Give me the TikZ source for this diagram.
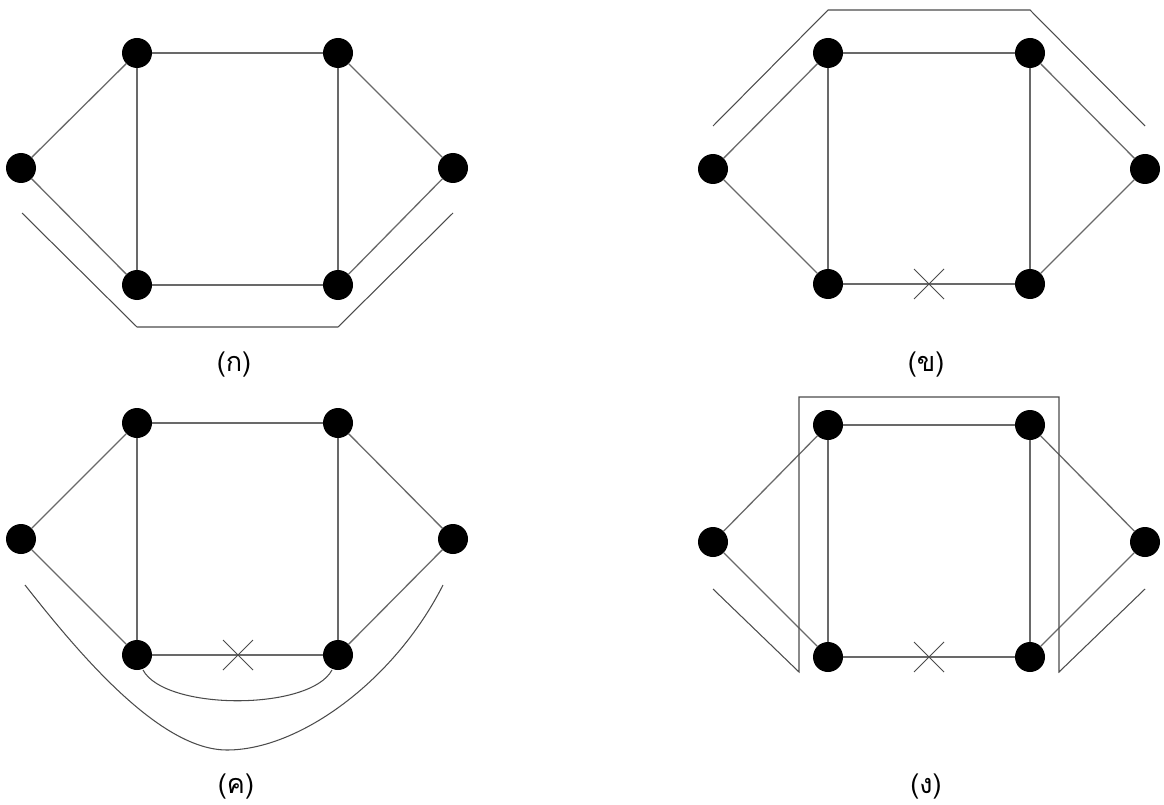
\documentclass[tikz,border=0pt]{standalone}
\usepackage{fontspec}
\newfontfamily\thaifont[Script=Thai]{Loma}
\definecolor{edgegray}{RGB}{105,105,105}
\definecolor{routegray}{RGB}{75,75,75}
\begin{document}
\begin{tikzpicture}[x=1pt,y=-1pt,
  vertex/.style={circle,fill=black,minimum size=30pt,inner sep=0pt},
  edge/.style={draw=edgegray,line width=1.3pt},
  route/.style={draw=routegray,line width=1.05pt},
  cut/.style={draw=routegray,line width=1.0pt},
  caption/.style={font=\thaifont\fontsize{27}{30}\selectfont,inner sep=0pt}]
\useasboundingbox (0,0) rectangle (1164,805);

% ---------- (a) ----------
\begin{scope}
\node[vertex] (a1) at (137,53) {};
\node[vertex] (a2) at (338,53) {};
\node[vertex] (a3) at (21,168) {};
\node[vertex] (a4) at (453,168) {};
\node[vertex] (a5) at (137,285) {};
\node[vertex] (a6) at (338,285) {};
\draw[edge] (a1) -- (a2);
\draw[edge] (a1) -- (a5);
\draw[edge] (a2) -- (a6);
\draw[edge] (a5) -- (a6);
\draw[edge] (a3) -- (a1);
\draw[edge] (a3) -- (a5);
\draw[edge] (a2) -- (a4);
\draw[edge] (a6) -- (a4);
\coordinate (ar1) at (22,213);
\coordinate (ar2) at (137,327);
\coordinate (ar3) at (338,327);
\coordinate (ar4) at (453,213);
\draw[route] (ar1) -- (ar2) -- (ar3) -- (ar4);
\node[caption] (la) at (234,365) {(ก)};
\end{scope}

% ---------- (b) ----------
\begin{scope}
\node[vertex] (b1) at (828,53) {};
\node[vertex] (b2) at (1030,53) {};
\node[vertex] (b3) at (713,169) {};
\node[vertex] (b4) at (1145,169) {};
\node[vertex] (b5) at (828,284) {};
\node[vertex] (b6) at (1030,284) {};
\draw[edge] (b1) -- (b2);
\draw[edge] (b1) -- (b5);
\draw[edge] (b2) -- (b6);
\draw[edge] (b5) -- (b6);
\draw[edge] (b3) -- (b1);
\draw[edge] (b3) -- (b5);
\draw[edge] (b2) -- (b4);
\draw[edge] (b6) -- (b4);
\coordinate (bx) at (929,284);
\draw[cut] ([shift={(-15,-15)}]bx) -- ([shift={(15,15)}]bx);
\draw[cut] ([shift={(-15,15)}]bx) -- ([shift={(15,-15)}]bx);
\coordinate (br1) at (713,126);
\coordinate (br2) at (828,10);
\coordinate (br3) at (1030,10);
\coordinate (br4) at (1145,126);
\draw[route] (br1) -- (br2) -- (br3) -- (br4);
\node[caption] (lb) at (926,365) {(ข)};
\end{scope}

% ---------- (c) ----------
\begin{scope}
\node[vertex] (c1) at (137,423) {};
\node[vertex] (c2) at (338,423) {};
\node[vertex] (c3) at (21,539) {};
\node[vertex] (c4) at (453,539) {};
\node[vertex] (c5) at (137,655) {};
\node[vertex] (c6) at (338,655) {};
\draw[edge] (c1) -- (c2);
\draw[edge] (c1) -- (c5);
\draw[edge] (c2) -- (c6);
\draw[edge] (c5) -- (c6);
\draw[edge] (c3) -- (c1);
\draw[edge] (c3) -- (c5);
\draw[edge] (c2) -- (c4);
\draw[edge] (c6) -- (c4);
\coordinate (cx) at (238,655);
\draw[cut] ([shift={(-15,-15)}]cx) -- ([shift={(15,15)}]cx);
\draw[cut] ([shift={(-15,15)}]cx) -- ([shift={(15,-15)}]cx);
\coordinate (ci1) at (143,670);
\coordinate (ci2) at (332,670);
\draw[route] (ci1) .. controls (165,711) and (310,711) .. (ci2);
\coordinate (co1) at (25,585);
\coordinate (co2) at (443,585);
\draw[route] (co1) .. controls (80,655) and (160,750) .. (227,750)
  .. controls (300,750) and (395,680) .. (co2);
\node[caption] (lc) at (236,787) {(ค)};
\end{scope}

% ---------- (d) ----------
\begin{scope}
\node[vertex] (d1) at (828,425) {};
\node[vertex] (d2) at (1030,425) {};
\node[vertex] (d3) at (713,542) {};
\node[vertex] (d4) at (1145,542) {};
\node[vertex] (d5) at (828,657) {};
\node[vertex] (d6) at (1030,657) {};
\draw[edge] (d1) -- (d2);
\draw[edge] (d1) -- (d5);
\draw[edge] (d2) -- (d6);
\draw[edge] (d5) -- (d6);
\draw[edge] (d3) -- (d1);
\draw[edge] (d3) -- (d5);
\draw[edge] (d2) -- (d4);
\draw[edge] (d6) -- (d4);
\coordinate (dx) at (929,657);
\draw[cut] ([shift={(-15,-15)}]dx) -- ([shift={(15,15)}]dx);
\draw[cut] ([shift={(-15,15)}]dx) -- ([shift={(15,-15)}]dx);
\coordinate (dr1) at (713,589);
\coordinate (dr2) at (799,672);
\coordinate (dr3) at (799,397);
\coordinate (dr4) at (1059,397);
\coordinate (dr5) at (1059,672);
\coordinate (dr6) at (1145,589);
\draw[route] (dr1) -- (dr2) -- (dr3) -- (dr4) -- (dr5) -- (dr6);
\node[caption] (ld) at (926,787) {(ง)};
\end{scope}
\end{tikzpicture}
\end{document}
